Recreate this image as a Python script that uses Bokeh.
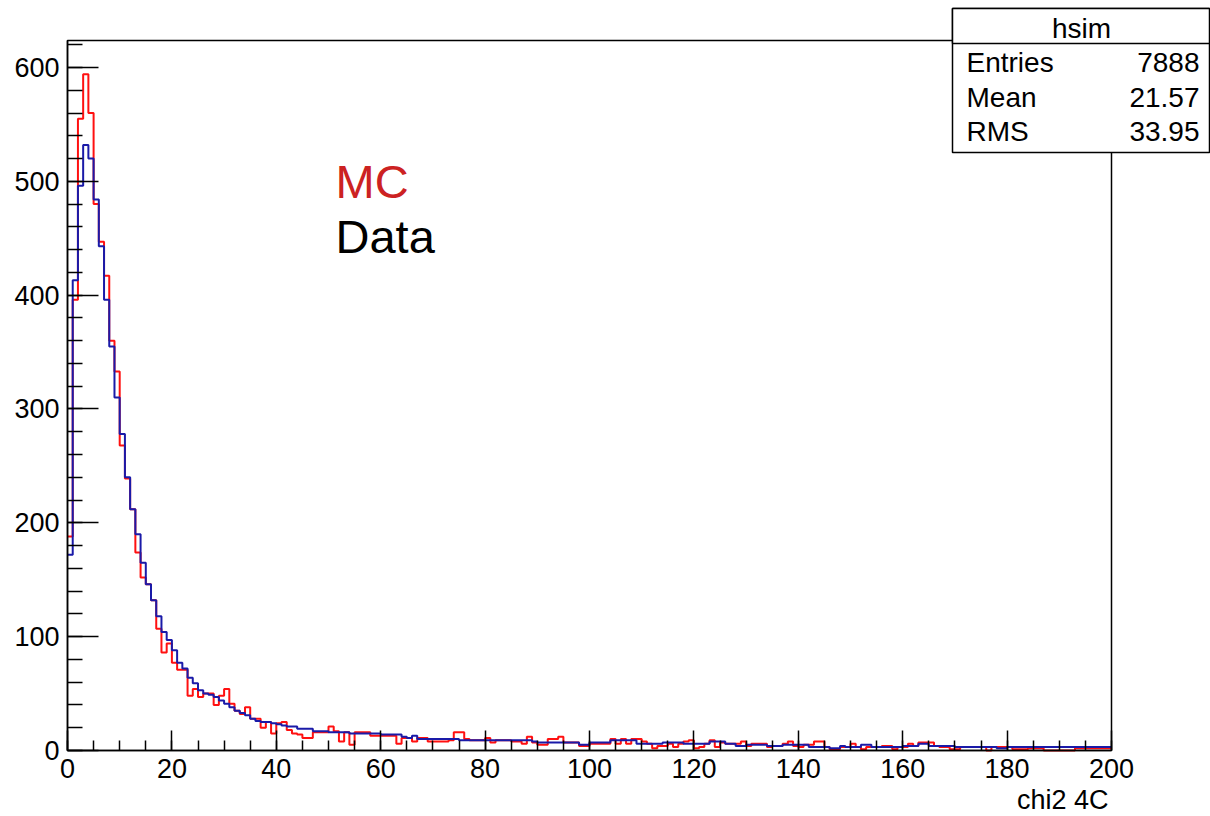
from bokeh.plotting import figure
from bokeh.models import Label, BoxAnnotation, FixedTicker, ColumnDataSource, Range1d
from bokeh.embed import file_html
from bokeh.resources import INLINE

# ---- data (bin contents, 200 bins of width 1 from 0 to 200) ----
x_edges = list(range(0, 201))

mc_counts = [
    188, 396, 555, 594, 560, 480, 447, 417, 360, 333,
    268, 239, 212, 174, 152, 146, 132, 107, 86, 94,
    77, 71, 71, 48, 54, 47, 50, 50, 40, 48,
    54, 41, 35, 32, 38, 28, 28, 20, 25, 15,
    24, 25, 18, 15, 14, 11, 11, 16, 16, 16,
    21, 17, 8, 16, 5, 16, 16, 16, 13, 13,
    13, 13, 13, 6, 11, 11, 8, 11, 11, 8,
    8, 8, 8, 9, 16, 16, 10, 9, 9, 9,
    11, 7, 9, 9, 9, 8, 8, 6, 12, 7,
    5, 5, 10, 10, 12, 7, 7, 7, 4, 4,
    6, 6, 6, 6, 10, 6, 10, 6, 10, 10,
    8, 6, 2, 4, 4, 6, 3, 6, 8, 9,
    2, 3, 6, 9, 3, 7, 6, 6, 6, 8,
    4, 6, 6, 6, 3, 4, 4, 6, 8, 4,
    3, 5, 5, 8, 8, 3, 1, 1, 3, 3,
    6, 3, 1, 3, 3, 3, 4, 4, 1, 3,
    3, 6, 4, 7, 7, 7, 4, 3, 3, 1,
    1, 3, 3, 3, 3, 3, 0, 3, 3, 3,
    3, 1, 1, 1, 2, 2, 2, 0, 0, 0,
    0, 0, 0, 2, 2, 2, 2, 2, 2, 2,
]

data_counts = [
    172, 413, 496, 532, 520, 484, 443, 396, 355, 310,
    278, 240, 212, 190, 165, 146, 132, 118, 104, 97,
    88, 77, 72, 64, 59, 53, 50, 49, 47, 44,
    41, 38, 35, 33, 31, 28, 26, 25, 25, 24,
    23, 22, 21, 21, 19, 19, 19, 17, 17, 17,
    16, 16, 16, 16, 15, 15, 15, 15, 15, 15,
    14, 14, 14, 14, 12, 11, 13, 10, 10, 10,
    10, 10, 10, 10, 10, 9, 9, 9, 9, 9,
    9, 9, 9, 9, 9, 9, 9, 9, 9, 8,
    7, 7, 7, 7, 7, 7, 7, 7, 5, 5,
    7, 7, 7, 7, 9, 9, 9, 9, 9, 6,
    6, 6, 6, 6, 7, 7, 7, 7, 6, 6,
    6, 6, 6, 8, 8, 8, 6, 6, 4, 4,
    5, 5, 5, 5, 4, 4, 4, 5, 5, 5,
    5, 5, 3, 3, 3, 3, 2, 2, 4, 3,
    3, 3, 5, 5, 3, 3, 3, 3, 3, 3,
    4, 4, 4, 6, 6, 4, 4, 4, 4, 4,
    3, 3, 3, 3, 3, 3, 3, 3, 2, 2,
    3, 3, 3, 3, 3, 3, 3, 3, 3, 3,
    3, 3, 3, 3, 3, 3, 3, 3, 3, 3,
]

x_ticks = list(range(0, 201, 20))
x_minor = list(range(0, 201, 5))
y_ticks = list(range(0, 601, 100))
y_minor = list(range(0, 621, 20))

stats_title = "hsim"
stats_names = ["Entries", "Mean", "RMS"]
stats_values = ["7888", "21.57", "33.95"]

# ---- layout (pixel frame of the ROOT pad) ----
W, H = 1210, 816
L, R, T, B = 67, 1111, 40, 750
XMAX = 200.0
YMAX = max(mc_counts) * 1.05
FONT = "Liberation Sans"


def dx(px):
    return (px - L) / (R - L) * XMAX


def dy(py):
    return (B - py) / (B - T) * YMAX


def text_label(px, baseline_py, text, size, align="left", color="black"):
    # position given by the text's baseline in pixels; text is vertically centred
    cy = baseline_py - 0.36 * size
    return Label(x=dx(px), y=dy(cy), text=text, text_font=FONT,
                 text_font_size=f"{size}px", text_align=align,
                 text_baseline="middle", text_color=color)


# the frame covers the whole canvas; the axes are pinned at x=0 / y=0
p = figure(width=W, height=H, output_backend="svg", toolbar_location=None,
           x_range=Range1d(dx(0), dx(W)), y_range=Range1d(dy(H), dy(0)),
           min_border_left=0, min_border_right=0,
           min_border_top=0, min_border_bottom=0)
p.title.visible = False
p.background_fill_color = "white"
p.border_fill_color = "white"
p.outline_line_color = None
p.xgrid.visible = False
p.ygrid.visible = False

src_mc = ColumnDataSource(dict(x=x_edges, y=mc_counts + [mc_counts[-1]]))
src_data = ColumnDataSource(dict(x=x_edges, y=data_counts + [data_counts[-1]]))
p.step("x", "y", source=src_mc, mode="after", line_color="#ff1010", line_width=2)
p.step("x", "y", source=src_data, mode="after", line_color="#1a1aa8", line_width=2)

# pad frame
p.add_layout(BoxAnnotation(left=0, right=XMAX, bottom=0, top=YMAX,
                           fill_alpha=0.0, line_color="black", line_alpha=1.0,
                           line_width=1.5))

# axes
p.xaxis.ticker = FixedTicker(ticks=x_ticks, minor_ticks=x_minor)
p.yaxis.ticker = FixedTicker(ticks=y_ticks, minor_ticks=y_minor)
p.xaxis.fixed_location = 0
p.yaxis.fixed_location = 0
p.xaxis.bounds = (0, XMAX)
p.yaxis.bounds = (0, YMAX)
for ax in (p.xaxis, p.yaxis):
    ax.axis_line_color = "black"
    ax.axis_line_width = 1.5
    ax.major_tick_line_color = "black"
    ax.minor_tick_line_color = "black"
    ax.major_tick_line_width = 1.5
    ax.minor_tick_line_width = 1.5
    ax.major_tick_out = 0
    ax.minor_tick_out = 0
    ax.major_label_text_font = FONT
    ax.major_label_text_font_size = "27px"
    ax.major_label_text_color = "black"
p.xaxis.major_tick_in = 20
p.xaxis.minor_tick_in = 10
p.yaxis.major_tick_in = 31
p.yaxis.minor_tick_in = 15
p.xaxis.major_label_standoff = 8
p.yaxis.major_label_standoff = 8

# x axis title (right aligned like ROOT)
p.add_layout(text_label(1108, 809, "chi2 4C", 27, align="right"))

# MC / Data legend text
p.add_layout(text_label(335, 198, "MC", 47, color="#cc2222"))
p.add_layout(text_label(335, 253, "Data", 47))

# stats box
p.add_layout(BoxAnnotation(left=dx(952), right=dx(1209), top=dy(8), bottom=dy(152),
                           fill_color="white", fill_alpha=1.0,
                           line_color="black", line_alpha=1.0, line_width=1.5))
p.add_layout(BoxAnnotation(left=dx(952), right=dx(1209), top=dy(8), bottom=dy(43),
                           fill_color="white", fill_alpha=1.0,
                           line_color="black", line_alpha=1.0, line_width=1.5))
p.add_layout(text_label(1081, 38, stats_title, 28, align="center"))
row_baselines = [72, 107, 141]
for name, val, by in zip(stats_names, stats_values, row_baselines):
    p.add_layout(text_label(966, by, name, 28, align="left"))
    p.add_layout(text_label(1199, by, val, 28, align="right"))

open("out.html", "w").write(file_html(p, INLINE))
